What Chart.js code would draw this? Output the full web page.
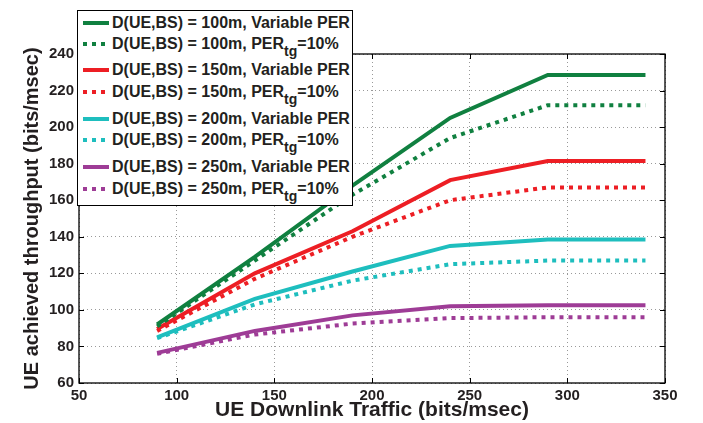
<!DOCTYPE html>
<html>
<head>
<meta charset="utf-8">
<script src="https://cdn.jsdelivr.net/npm/chart.js@4"></script>
<style>
  html, body { margin: 0; padding: 0; background: #fff; }
  #wrap { position: relative; width: 703px; height: 423px; }
  #legend { position: absolute; left: 77px; top: 10px; width: 274px; height: 194px;
            border: 1px solid #000; background: #fff; font-family: "Liberation Sans", Arial, sans-serif;
            font-weight: bold; font-size: 16px; color: #231f20; }
  .row { position: absolute; left: 0; height: 18px; line-height: 18px; white-space: nowrap; }
  .sample { position: absolute; left: 5px; top: 7px; width: 26px; height: 4px; }
  .txt { position: absolute; left: 34px; top: 0; }
  .txt sub { font-size: 14px; vertical-align: -7px; line-height: 0; }
</style>
</head>
<body>
<div id="wrap">
  <canvas id="c" width="703" height="423"></canvas>
  <div id="legend"></div>
</div>
<script>
// ---- data ----
const traffic = [90, 140, 190, 240, 290, 340];
const d100Variable = [92, 129, 168, 205, 228.5, 228.5];
const d100Target   = [91, 127, 163, 194, 212, 212];
const d150Variable = [89.5, 120, 143, 171, 181.5, 181.5];
const d150Target   = [88.5, 117, 140, 160, 167, 167];
const d200Variable = [85, 106, 121, 135, 138.5, 138.5];
const d200Target   = [84.5, 103, 116, 125, 127, 127];
const d250Variable = [76.5, 88.5, 97, 102, 102.5, 102.5];
const d250Target   = [76, 86.5, 92.5, 95.5, 96, 96];
const xTicks = [50, 100, 150, 200, 250, 300, 350];
const yTicks = [60, 80, 100, 120, 140, 160, 180, 200, 220, 240];
const distances = ['100m', '150m', '200m', '250m'];

const colors = ['rgb(16,128,64)', 'rgb(237,30,36)', 'rgb(30,190,190)', 'rgb(158,60,150)'];
const seriesByDistance = [
  [d100Variable, d100Target],
  [d150Variable, d150Target],
  [d200Variable, d200Target],
  [d250Variable, d250Target]
];

const datasets = [];
seriesByDistance.forEach((pair, i) => {
  pair.forEach((vals, j) => {
    datasets.push({
      label: 'D(UE,BS) = ' + distances[i] + (j === 0 ? ', Variable PER' : ', PER_tg=10%'),
      dist: distances[i], dotted: j === 1,
      data: traffic.map((x, k) => ({ x: x, y: vals[k] })),
      borderColor: colors[i],
      backgroundColor: colors[i],
      borderWidth: 4,
      borderDash: j === 1 ? [4, 5] : [],
      borderCapStyle: 'butt',
      pointRadius: 0,
      tension: 0,
      fill: false
    });
  });
});

const font = "'Liberation Sans', Arial, sans-serif";
const textColor = '#231f20';

const framePlugin = {
  id: 'frame',
  afterDraw(chart) {
    const { ctx, chartArea: a, scales } = chart;
    ctx.save();
    ctx.strokeStyle = '#000';
    ctx.lineWidth = 1.3;
    ctx.setLineDash([]);
    ctx.strokeRect(a.left, a.top, a.right - a.left, a.bottom - a.top);
    ctx.lineWidth = 1;
    const tl = 5;
    xTicks.forEach(v => {
      const px = Math.round(scales.x.getPixelForValue(v)) + 0.5;
      ctx.beginPath();
      ctx.moveTo(px, a.bottom); ctx.lineTo(px, a.bottom - tl);
      ctx.moveTo(px, a.top); ctx.lineTo(px, a.top + tl);
      ctx.stroke();
    });
    yTicks.forEach(v => {
      const py = Math.round(scales.y.getPixelForValue(v)) + 0.5;
      ctx.beginPath();
      ctx.moveTo(a.left, py); ctx.lineTo(a.left + tl, py);
      ctx.moveTo(a.right, py); ctx.lineTo(a.right - tl, py);
      ctx.stroke();
    });
    ctx.restore();
  }
};

const chart = new Chart(document.getElementById('c'), {
  type: 'line',
  data: { datasets: datasets },
  options: {
    responsive: false,
    animation: false,
    devicePixelRatio: 1,
    layout: { padding: { top: 54, right: 38, left: 0, bottom: 0 } },
    plugins: { legend: { display: false }, tooltip: { enabled: false } },
    scales: {
      x: {
        type: 'linear', min: 50, max: 350,
        afterBuildTicks(s) { s.ticks = xTicks.map(v => ({ value: v })); },
        afterFit(s) { s.height = 40; },
        grid: { color: '#999', lineWidth: 1, drawTicks: false },
        border: { display: false, dash: [1, 3] },
        ticks: { color: textColor, font: { family: font, size: 15, weight: 'bold' }, padding: 4, maxRotation: 0 },
        title: { display: true, text: 'UE Downlink Traffic (bits/msec)', color: textColor,
                 font: { family: font, size: 21, weight: 'bold' }, padding: { top: -2, bottom: 0 } }
      },
      y: {
        type: 'linear', min: 60, max: 240,
        afterBuildTicks(s) { s.ticks = yTicks.map(v => ({ value: v })); },
        afterFit(s) { s.width = 79; },
        grid: { color: '#999', lineWidth: 1, drawTicks: false },
        border: { display: false, dash: [1, 3] },
        ticks: { color: textColor, font: { family: font, size: 15, weight: 'bold' }, padding: 5 },
        title: { display: true, text: 'UE achieved throughput (bits/msec)', color: textColor,
                 font: { family: font, size: 20, weight: 'bold' }, padding: { top: 20, bottom: 0 } }
      }
    }
  },
  plugins: [framePlugin]
});

// ---- HTML legend (text with subscript) built from datasets ----
const centers = [11.7, 33.3, 59.3, 81, 107.7, 129.3, 155.7, 178.3];
const legend = document.getElementById('legend');
datasets.forEach((ds, i) => {
  const row = document.createElement('div');
  row.className = 'row';
  row.style.top = (centers[i] - 9) + 'px';
  const s = document.createElement('div');
  s.className = 'sample';
  s.style.background = ds.dotted
    ? 'repeating-linear-gradient(to right, ' + ds.borderColor + ' 0 4px, transparent 4px 9px)'
    : ds.borderColor;
  const t = document.createElement('div');
  t.className = 'txt';
  t.innerHTML = 'D(UE,BS) = ' + ds.dist + (ds.dotted ? ', PER<sub>tg</sub>=10%' : ', Variable PER');
  row.appendChild(s); row.appendChild(t);
  legend.appendChild(row);
});
</script>
</body>
</html>
